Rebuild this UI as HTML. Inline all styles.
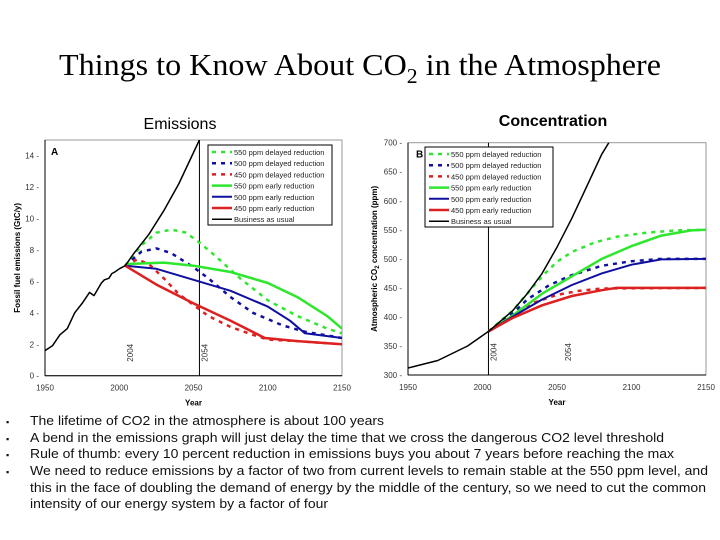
<!DOCTYPE html>
<html><head><meta charset="utf-8"><style>
body{margin:0;background:#fff}
svg{display:block;font-family:"Liberation Sans",Arial,sans-serif}
</style></head><body>
<svg id="s" width="720" height="540" viewBox="0 0 720 540">
<text x="360" y="75" text-anchor="middle" font-family="Liberation Serif,serif" font-size="31" textLength="602" lengthAdjust="spacingAndGlyphs">Things to Know About CO<tspan font-size="21" dy="8">2</tspan><tspan dy="-8"> in the Atmosphere</tspan></text>
<text x="180" y="129" text-anchor="middle" font-size="16">Emissions</text>
<text x="553" y="126" text-anchor="middle" font-size="16" font-weight="bold">Concentration</text>
<g id="left"></g>
<g id="right"></g>
<g font-size="12.5" fill="#111">
<text x="6" y="425" font-size="9">▪</text><text x="30" y="425" textLength="354" lengthAdjust="spacingAndGlyphs">The lifetime of CO2 in the atmosphere is about 100 years</text>
<text x="6" y="442" font-size="9">▪</text><text x="30" y="442" textLength="634" lengthAdjust="spacingAndGlyphs">A bend in the emissions graph will just delay the time that we cross the dangerous CO2 level threshold</text>
<text x="6" y="458" font-size="9">▪</text><text x="30" y="458" textLength="644" lengthAdjust="spacingAndGlyphs">Rule of thumb: every 10 percent reduction in emissions buys you about 7 years before reaching the max</text>
<text x="6" y="475" font-size="9">▪</text><text x="30" y="475" textLength="678" lengthAdjust="spacingAndGlyphs">We need to reduce emissions by a factor of two from current levels to remain stable at the 550 ppm level, and</text>
<text x="30" y="492" textLength="676" lengthAdjust="spacingAndGlyphs">this in the face of doubling the demand of energy by the middle of the century, so we need to cut the common</text>
<text x="30" y="508" textLength="298" lengthAdjust="spacingAndGlyphs">intensity of our energy system by a factor of four</text>
</g>
</svg>
<script>
// Emissions (GtC/y)
const emBAUyears=[1950,1955,1960,1965,1970,1975,1980,1983,1988,1990,1993,1995,1997,2000,2004,2010,2020,2030,2040,2054];
const emBAU=[1.6,1.9,2.6,3.0,4.0,4.6,5.3,5.1,5.9,6.1,6.2,6.5,6.6,6.8,7.0,7.8,9.0,10.5,12.2,15];
const em550dY=[2004,2015,2025,2035,2045,2055,2065,2080,2100,2120,2140,2150];
const em550d=[7,8.3,9.1,9.3,9.1,8.4,7.6,6.3,4.8,3.8,3.0,2.7];
const em500dY=[2004,2015,2025,2035,2050,2060,2075,2090,2110,2125,2150];
const em500d=[7,7.9,8.1,7.8,6.9,6.2,5.0,4.0,3.2,2.8,2.4];
const em450dY=[2004,2012,2020,2030,2040,2050,2060,2075,2090,2100,2120,2150];
const em450d=[7,7.4,7.1,6.2,5.2,4.5,3.8,3.1,2.6,2.3,2.2,2.0];
const em550eY=[2004,2030,2050,2075,2100,2120,2140,2150];
const em550e=[7.1,7.2,7.0,6.6,5.9,5.0,3.8,3.0];
const em500eY=[2004,2025,2050,2075,2100,2115,2125,2150];
const em500e=[7.0,6.8,6.1,5.4,4.4,3.5,2.7,2.4];
const em450eY=[2004,2025,2050,2075,2098,2120,2150];
const em450e=[7.0,5.8,4.6,3.5,2.4,2.2,2.0];
// Concentration (ppm)
const coBAUY=[1950,1970,1990,2004,2020,2030,2040,2050,2060,2070,2080,2086];
const coBAU=[312,325,350,375,410,440,475,520,570,625,680,705];
const co550dY=[2004,2020,2030,2040,2050,2060,2075,2090,2110,2130,2150];
const co550d=[375,410,440,470,495,512,528,538,545,549,550];
const co500dY=[2004,2020,2030,2045,2060,2080,2100,2120,2150];
const co500d=[375,405,430,455,472,488,496,500,500];
const co450dY=[2004,2020,2035,2050,2065,2080,2150];
const co450d=[375,402,425,438,445,449,450];
const co550eY=[2004,2020,2040,2060,2080,2100,2120,2140,2150];
const co550e=[375,402,440,470,500,522,540,549,550];
const co500eY=[2004,2020,2040,2060,2080,2100,2120,2150];
const co500e=[375,400,430,455,475,490,499,500];
const co450eY=[2004,2020,2040,2060,2080,2090,2150];
const co450e=[375,398,420,436,446,450,450];
const xTicks=[1950,2000,2050,2100,2150];
const emTicks=[0,2,4,6,8,10,12,14];
const coTicks=[300,350,400,450,500,550,600,650,700];
const legendLabels=['550 ppm delayed reduction','500 ppm delayed reduction','450 ppm delayed reduction','550 ppm early reduction','500 ppm early reduction','450 ppm early reduction','Business as usual'];
const NS='http://www.w3.org/2000/svg';
function mk(p,t,a){const e=document.createElementNS(NS,t);for(const k in a)e.setAttribute(k,a[k]);p.appendChild(e);return e;}
const G='#2ee62e',B='#1010a0',R='#dd2020',K='#000';
const styles=[[G,2.5,'4 5'],[B,2.5,'4 5'],[R,2.5,'4 5'],[G,2.5,''],[B,2,''],[R,2.5,''],[K,1.5,'']];
function chart(g,o){
  const sx=v=>o.x0+(v-1950)/200*(o.x1-o.x0);
  const sy=v=>o.y0-(v-o.ymin)/(o.ymax-o.ymin)*(o.y0-o.y1);
  let r=mk(g,'rect',{x:o.x0,y:o.y1,width:o.x1-o.x0,height:o.y0-o.y1,fill:'none',stroke:'#999','stroke-width':1});
  
  mk(g,'line',{x1:o.x0,y1:o.y1,x2:o.x0,y2:o.y0,stroke:'#000'});
  mk(g,'line',{x1:o.x0,y1:o.y0,x2:o.x1,y2:o.y0,stroke:'#000'});
  xTicks.forEach(v=>{const t=mk(g,'text',{x:sx(v),y:o.y0+15,'text-anchor':'middle','font-size':8,fill:'#333'});t.textContent=v;
    });
  o.ticks.forEach(v=>{const t=mk(g,'text',{x:o.x0-6,y:sy(v)+3,'text-anchor':'end','font-size':8,fill:'#333'});t.textContent=v+(o.dash?' -':'');
    });
  let xt=mk(g,'text',{x:(o.x0+o.x1)/2,y:o.y0+30,'text-anchor':'middle','font-size':8,'font-weight':'bold'});xt.textContent='Year';
  
  let yt=mk(g,'text',{x:0,y:0,'text-anchor':'middle','font-size':8,'font-weight':'bold',transform:`translate(${o.ytx},${(o.y0+o.y1)/2}) rotate(-90)`});yt.innerHTML=o.ytitle;
  
  [2004,2054].forEach(v=>{
    if(v===2004&&o.vline2004||v===2054&&o.vline2054){const l=mk(g,'line',{x1:sx(v),y1:o.y1,x2:sx(v),y2:o.y0,stroke:'#000','stroke-width':1});
      }
    const t=mk(g,'text',{x:0,y:0,'font-size':8,fill:'#333',transform:`translate(${sx(v)+8},${o.y0-14}) rotate(-90)`});t.textContent=v;
    });
  const cp=mk(g,'clipPath',{id:o.id+'c'});mk(cp,'rect',{x:o.x0,y:o.y1,width:o.x1-o.x0,height:o.y0-o.y1});
  const sg=mk(g,'g',{'clip-path':`url(#${o.id}c)`});
  o.series.forEach((s,i)=>{const [c,w,d]=styles[i];
    const p=mk(sg,'path',{d:s[0].map((yr,j)=>(j?'L':'M')+sx(yr).toFixed(1)+','+sy(s[1][j]).toFixed(1)).join(''),fill:'none',stroke:c,'stroke-width':w,'stroke-dasharray':d,'stroke-linejoin':'round'});
    });
  const L=o.leg;
  const lr=mk(g,'rect',{x:L.x,y:L.y,width:L.w,height:L.h,fill:'#fff',stroke:'#000','stroke-width':1});
  
  legendLabels.forEach((lab,i)=>{const [c,w,d]=styles[i];const yy=L.y+7+i*11.2;
    const ll=mk(g,'line',{x1:L.x+4,y1:yy,x2:L.x+24,y2:yy,stroke:c,'stroke-width':w,'stroke-dasharray':d?'4 5':''});
    
    const t=mk(g,'text',{x:L.x+26,y:yy+3,'font-size':7.5,fill:'#222'});t.textContent=lab;
    });
  const pl=mk(g,'text',{x:o.x0+(o.id==='L'?6:8),y:o.y1+15,'font-size':10,'font-weight':'bold'});pl.textContent=o.id==='L'?'A':'B';
  
}
chart(document.getElementById('left'),{id:'L',x0:45,x1:342,y0:375.7,y1:140,ymin:0,ymax:15,ticks:emTicks,dash:true,ytx:20,
  ytitle:'Fossil fuel emissions (GtC/y)',vline2004:false,vline2054:true,leg:{x:208,y:145,w:124,h:80},
  series:[[em550dY,em550d],[em500dY,em500d],[em450dY,em450d],[em550eY,em550e],[em500eY,em500e],[em450eY,em450e],[emBAUyears,emBAU]]});
chart(document.getElementById('right'),{id:'R',x0:408,x1:706,y0:375,y1:142.7,ymin:300,ymax:700,ticks:coTicks,dash:true,ytx:377,
  ytitle:'Atmospheric CO<tspan font-size="6" dy="2">2</tspan><tspan dy="-2"> concentration (ppm)</tspan>',vline2004:true,vline2054:false,leg:{x:425,y:147,w:128,h:80},
  series:[[co550dY,co550d],[co500dY,co500d],[co450dY,co450d],[co550eY,co550e],[co500eY,co500e],[co450eY,co450e],[coBAUY,coBAU]]});
</script>
</body></html>
